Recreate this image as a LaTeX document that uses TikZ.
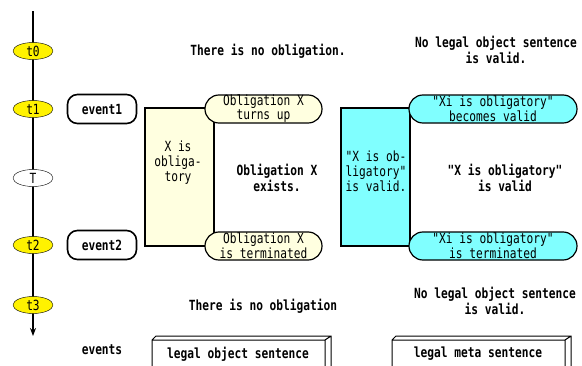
\documentclass[tikz,border=0pt]{standalone}
\usepackage{fontspec}
\setmonofont{DejaVu Sans Mono}[FakeStretch=0.8]
\usetikzlibrary{shapes.geometric,arrows.meta}
\definecolor{cream}{RGB}{255,255,224}
\definecolor{paleCyan}{RGB}{128,255,255}
\tikzset{
  tick/.style={ellipse,draw,fill=yellow,minimum width=40pt,minimum height=17pt},
  eventbox/.style={draw,line width=1.6pt,rounded corners=10pt,minimum width=69pt,minimum height=29pt,bold},
  capsule/.style={draw,line width=1.2pt,rounded corners=13.9pt,minimum height=28pt},
  stateBox/.style={draw,line width=1.2pt,minimum width=69pt,minimum height=138pt},
  bold/.style={font=\ttfamily\bfseries\fontsize{14}{13}\selectfont},
  wide/.style={font=\ttfamily\fontsize{14}{15}\selectfont}
}
\begin{document}
\begin{tikzpicture}[x=1pt,y=-1pt,
  every node/.style={font=\ttfamily\fontsize{14}{12}\selectfont,align=center,inner sep=0pt}]
\useasboundingbox (0,0) rectangle (582,365);

% time line
\coordinate (top) at (33,11);
\coordinate (bot) at (33,336);
\draw[line width=1.6pt,-{Stealth[length=8pt,width=6pt]}] (top) -- (bot);
\node[tick] (t0) at (33,51)  {t0};
\node[tick] (t1) at (33,109) {t1};
\node[tick,fill=white] (T) at (33,178) {T};
\node[tick] (t2) at (33,245) {t2};
\node[tick] (t3) at (33,305) {t3};

\node[eventbox] (ev1) at (102,109) {event1};
\node[eventbox] (ev2) at (102,245) {event2};
\node[bold] (events) at (102,350) {events};

% object level
\node[bold] (noobl0) at (268,51) {There is no obligation.};
\node[stateBox,fill=cream] (oblrect) at (179.5,177) {};
\node[wide] (obltext) at (178,163) {X is\\obliga-\\tory};
\node[capsule,fill=cream,minimum width=117pt] (oblup) at (263.5,109) {Obligation X\\turns up};
\node[capsule,fill=cream,minimum width=117pt] (oblend) at (263.5,246) {Obligation X\\is terminated};
\node[bold,font=\ttfamily\bfseries\fontsize{14}{16}\selectfont] (oblex) at (277,178) {Obligation X\\exists.};
\node[bold] (noobl3) at (263,306) {There is no obligation};

% meta level
\node[bold] (novalid0) at (496,50) {No legal object sentence\\is valid.};
\node[stateBox,fill=paleCyan] (valrect) at (375.5,177) {};
\node[wide] (valtext) at (376,171) {"X is ob-\\ligatory"\\is valid.};
\node[capsule,fill=paleCyan,minimum width=168pt] (valup) at (493,109) {"Xi is obligatory"\\becomes valid};
\node[capsule,fill=paleCyan,minimum width=168pt] (valend) at (493,246) {"Xi is obligatory"\\is terminated};
\node[bold,font=\ttfamily\bfseries\fontsize{14}{16}\selectfont] (valex) at (505,178) {"X is obligatory"\\is valid};
\node[bold] (novalid3) at (495,301) {No legal object sentence\\is valid.};

% sentence boxes
\node[bold] (objsent) at (238,354) {legal object sentence};
\draw[line width=1pt] (152,366) |- (325,340) -- (325,366)
  (152,340) -- (156,336) -- (331,336) -- (331,366) (325,340) -- (331,336);
\node[bold] (metasent) at (478,354) {legal meta sentence};
\draw[line width=1pt] (392,366) |- (565,340) -- (565,366)
  (392,340) -- (396,336) -- (571,336) -- (571,366) (565,340) -- (571,336);
\end{tikzpicture}
\end{document}
